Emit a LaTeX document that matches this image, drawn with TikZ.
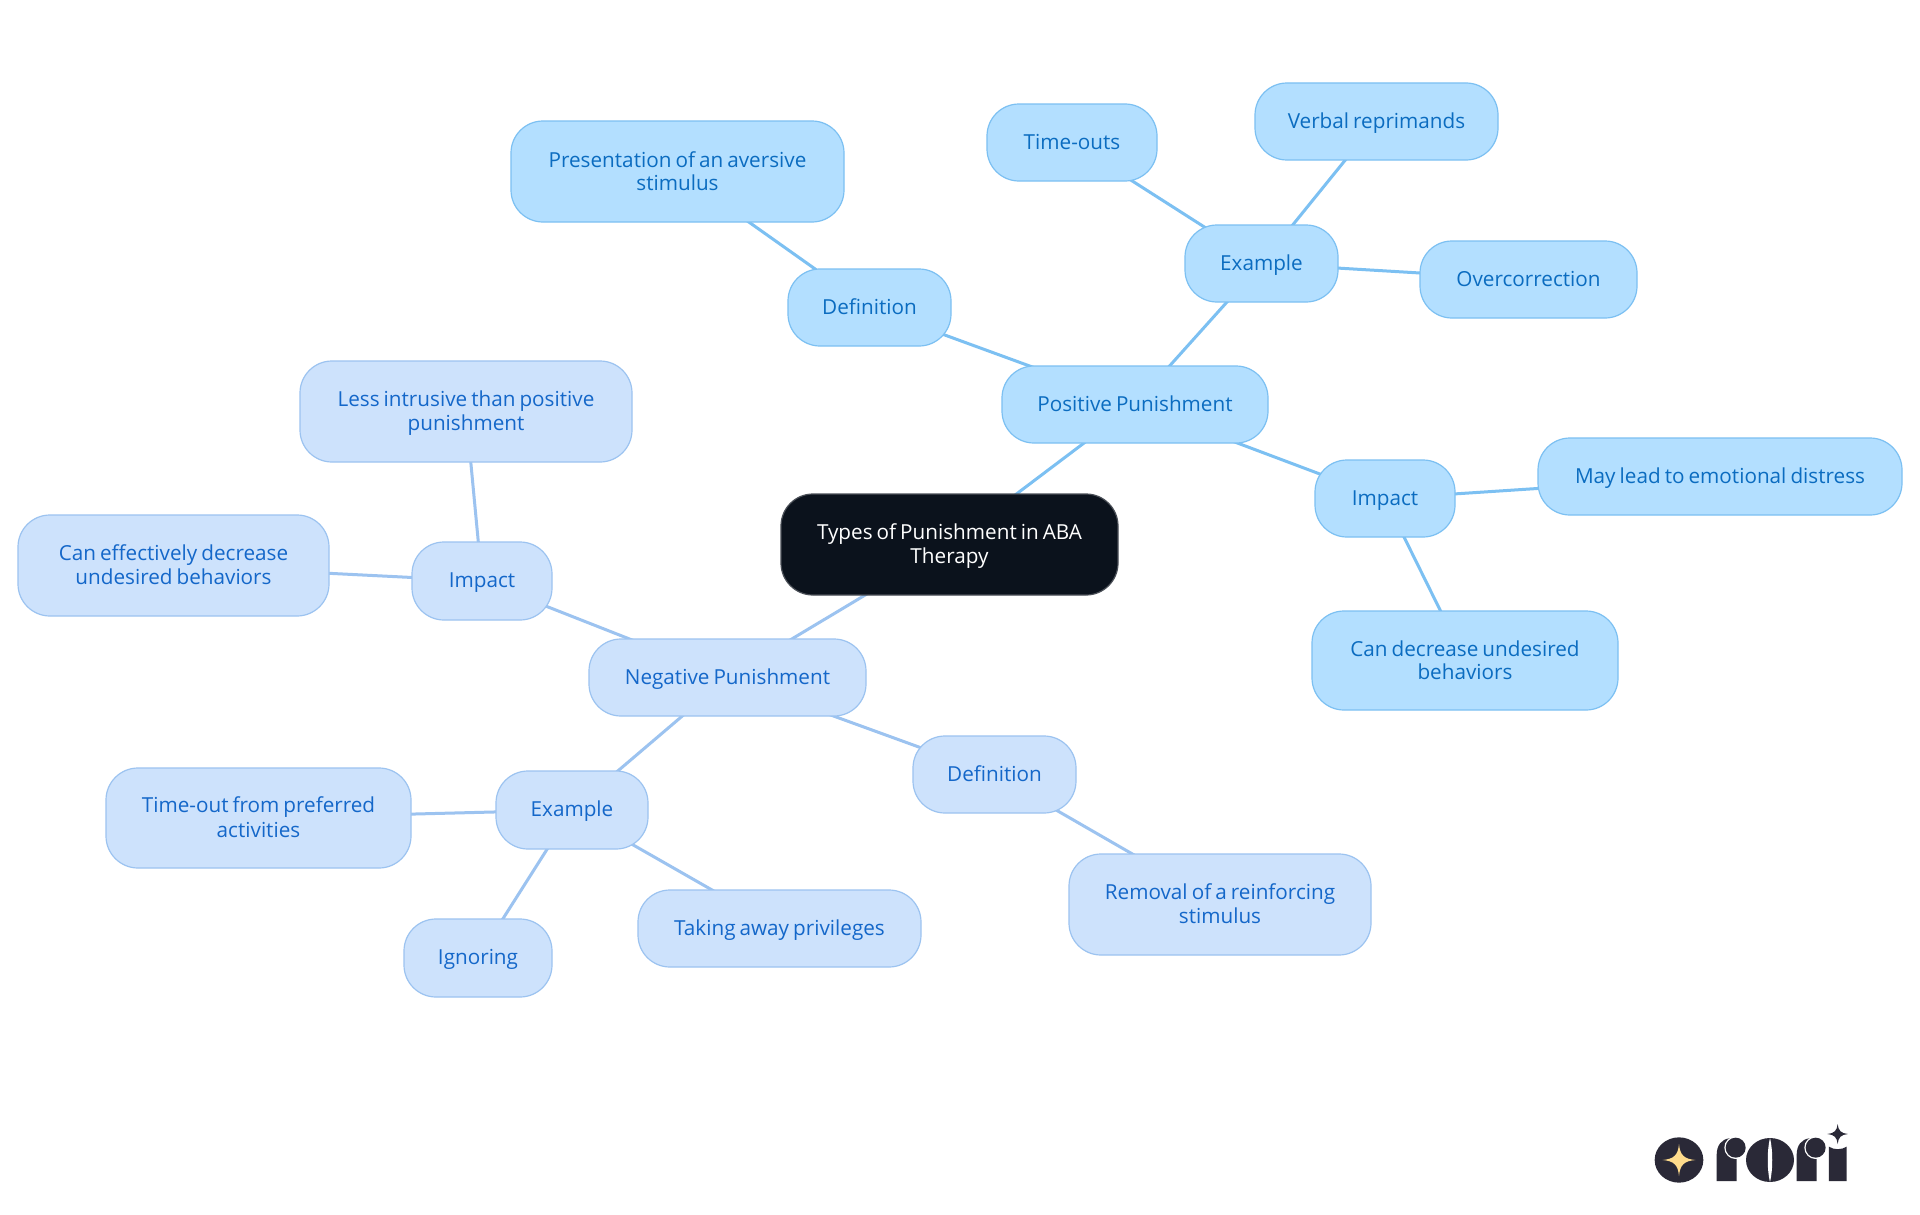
\documentclass[tikz,border=0pt]{standalone}
\usepackage{fontspec}
\setmainfont[WordSpace=0.75]{Open Sans}
\usetikzlibrary{backgrounds}
\definecolor{rootfill}{HTML}{0B121C}
\definecolor{rootline}{HTML}{4A4F57}
\definecolor{posfill}{HTML}{B3DFFF}
\definecolor{posline}{HTML}{7CC0F2}
\definecolor{postext}{HTML}{0B6CC0}
\definecolor{negfill}{HTML}{CDE2FC}
\definecolor{negline}{HTML}{9CC3F0}
\definecolor{negtext}{HTML}{1467C9}
\definecolor{logodark}{HTML}{2A2937}
\definecolor{logostar}{HTML}{FFDC8C}
\newcommand{\ms}{\rule[-4.4pt]{0pt}{23pt}}
\tikzset{
  mapbox/.style={rounded corners=32pt, line width=1.2pt, align=center, inner sep=0pt, outer sep=0pt,
    font=\fontsize{20.7}{23}\selectfont},
  rootbox/.style={mapbox, fill=rootfill, draw=rootline, text=white},
  posbox/.style={mapbox, fill=posfill, draw=posline, text=postext},
  negbox/.style={mapbox, fill=negfill, draw=negline, text=negtext},
  posedge/.style={draw=posline, line width=3pt},
  negedge/.style={draw=negline, line width=3pt},
}
\newcommand{\mapnode}[7]{%
  \pgfmathsetmacro{\mapcx}{(#3+1+#5)/2}\pgfmathsetmacro{\mapcy}{(#4+1+#6)/2}%
  \pgfmathsetmacro{\mapw}{#5-#3-1}\pgfmathsetmacro{\maph}{#6-#4-1}%
  \node[#2, minimum width=\mapw pt, minimum height=\maph pt] (#1) at (\mapcx,\mapcy) {#7};}
\begin{document}
\begin{tikzpicture}[x=1pt,y=-1pt]
\useasboundingbox (0,0) rectangle (1920,1215);
\mapnode{root}{rootbox}{780}{493}{1118}{595}{\ms Types of Punishment in ABA\\\ms Therapy}
\mapnode{pos}{posbox}{1001}{365}{1268}{443}{\ms Positive Punishment}
\mapnode{pdef}{posbox}{787}{268}{951}{346}{\ms Definition}
\mapnode{ppre}{posbox}{510}{120}{844}{222}{\ms Presentation of an aversive\\\ms stimulus}
\mapnode{pex}{posbox}{1184}{224}{1338}{302}{\ms Example}
\mapnode{ptime}{posbox}{986}{103}{1157}{181}{\ms Time-outs}
\mapnode{pverb}{posbox}{1254}{82}{1498}{160}{\ms Verbal reprimands}
\mapnode{pover}{posbox}{1419}{240}{1637}{318}{\ms Overcorrection}
\mapnode{pimp}{posbox}{1314}{459}{1455}{537}{\ms Impact}
\mapnode{pmay}{posbox}{1537}{437}{1902}{515}{\ms May lead to emotional distress}
\mapnode{pcan}{posbox}{1311}{610}{1618}{710}{\ms Can decrease undesired\\\ms behaviors}
\mapnode{neg}{negbox}{588}{638}{866}{716}{\ms Negative Punishment}
\mapnode{nimp}{negbox}{411}{541}{552}{620}{\ms Impact}
\mapnode{nless}{negbox}{299}{360}{632}{462}{\ms Less intrusive than positive\\\ms punishment}
\mapnode{ncan}{negbox}{17}{514}{329}{616}{\ms Can effectively decrease\\\ms undesired behaviors}
\mapnode{nex}{negbox}{495}{770}{648}{849}{\ms Example}
\mapnode{ntime}{negbox}{105}{767}{411}{868}{\ms Time-out from preferred\\\ms activities}
\mapnode{nign}{negbox}{403}{918}{552}{997}{\ms Ignoring}
\mapnode{ntak}{negbox}{637}{889}{921}{967}{\ms Taking away privileges}
\mapnode{ndef}{negbox}{912}{735}{1076}{813}{\ms Definition}
\mapnode{nrem}{negbox}{1068}{853}{1371}{955}{\ms Removal of a reinforcing\\\ms stimulus}
\begin{scope}[on background layer]
\fill[white] (0,0) rectangle (1920,1215);
\draw[posedge] (root.center) -- (pos.center);
\draw[posedge] (pos.center) -- (pdef.center);
\draw[posedge] (pdef.center) -- (ppre.center);
\draw[posedge] (pos.center) -- (pex.center);
\draw[posedge] (pex.center) -- (ptime.center);
\draw[posedge] (pex.center) -- (pverb.center);
\draw[posedge] (pex.center) -- (pover.center);
\draw[posedge] (pos.center) -- (pimp.center);
\draw[posedge] (pimp.center) -- (pmay.center);
\draw[posedge] (pimp.center) -- (pcan.center);
\draw[negedge] (root.center) -- (neg.center);
\draw[negedge] (neg.center) -- (nimp.center);
\draw[negedge] (nimp.center) -- (nless.center);
\draw[negedge] (nimp.center) -- (ncan.center);
\draw[negedge] (neg.center) -- (nex.center);
\draw[negedge] (nex.center) -- (ntime.center);
\draw[negedge] (nex.center) -- (nign.center);
\draw[negedge] (nex.center) -- (ntak.center);
\draw[negedge] (neg.center) -- (ndef.center);
\draw[negedge] (ndef.center) -- (nrem.center);
\end{scope}
% logo
\begin{scope}[shift={(1620,1100)},x=0.3333pt,y=-0.3333pt]
\fill[logodark] (177,180) circle[x radius=73,y radius=68];
\fill[logostar] (177,132) .. controls (180,165) and (192,177) .. (226,180)
  .. controls (192,183) and (180,195) .. (177,228)
  .. controls (174,195) and (162,183) .. (128,180)
  .. controls (162,177) and (174,165) .. (177,132) -- cycle;
\foreach \dx in {0,240}{
  \fill[logodark,shift={(\dx,0)}] (290,243) -- (290,165) .. controls (290,135) and (305,118) .. (328,115)
    -- (350,115) -- (350,243) -- cycle;
  \fill[white,shift={(\dx,0)}] (347,143) circle[radius=34];
  \fill[white,shift={(\dx,0)}] (352,112) rectangle (385,185);
  \fill[logodark,shift={(\dx,0)}] (347,143) circle[radius=30];
}
\fill[logodark] (450,180) circle[x radius=72,y radius=66];
\fill[white] (450,114) .. controls (441,150) and (441,210) .. (450,246)
  .. controls (459,210) and (459,150) .. (450,114) -- cycle;
\fill[logodark] (627,243) -- (627,140) .. controls (640,150) and (666,150) .. (680,140) -- (680,243) -- cycle;
\fill[logodark] (653,72) .. controls (655,92) and (663,100) .. (684,102)
  .. controls (663,104) and (655,112) .. (653,132)
  .. controls (651,112) and (643,104) .. (622,102)
  .. controls (643,100) and (651,92) .. (653,72) -- cycle;
\end{scope}
\end{tikzpicture}
\end{document}
